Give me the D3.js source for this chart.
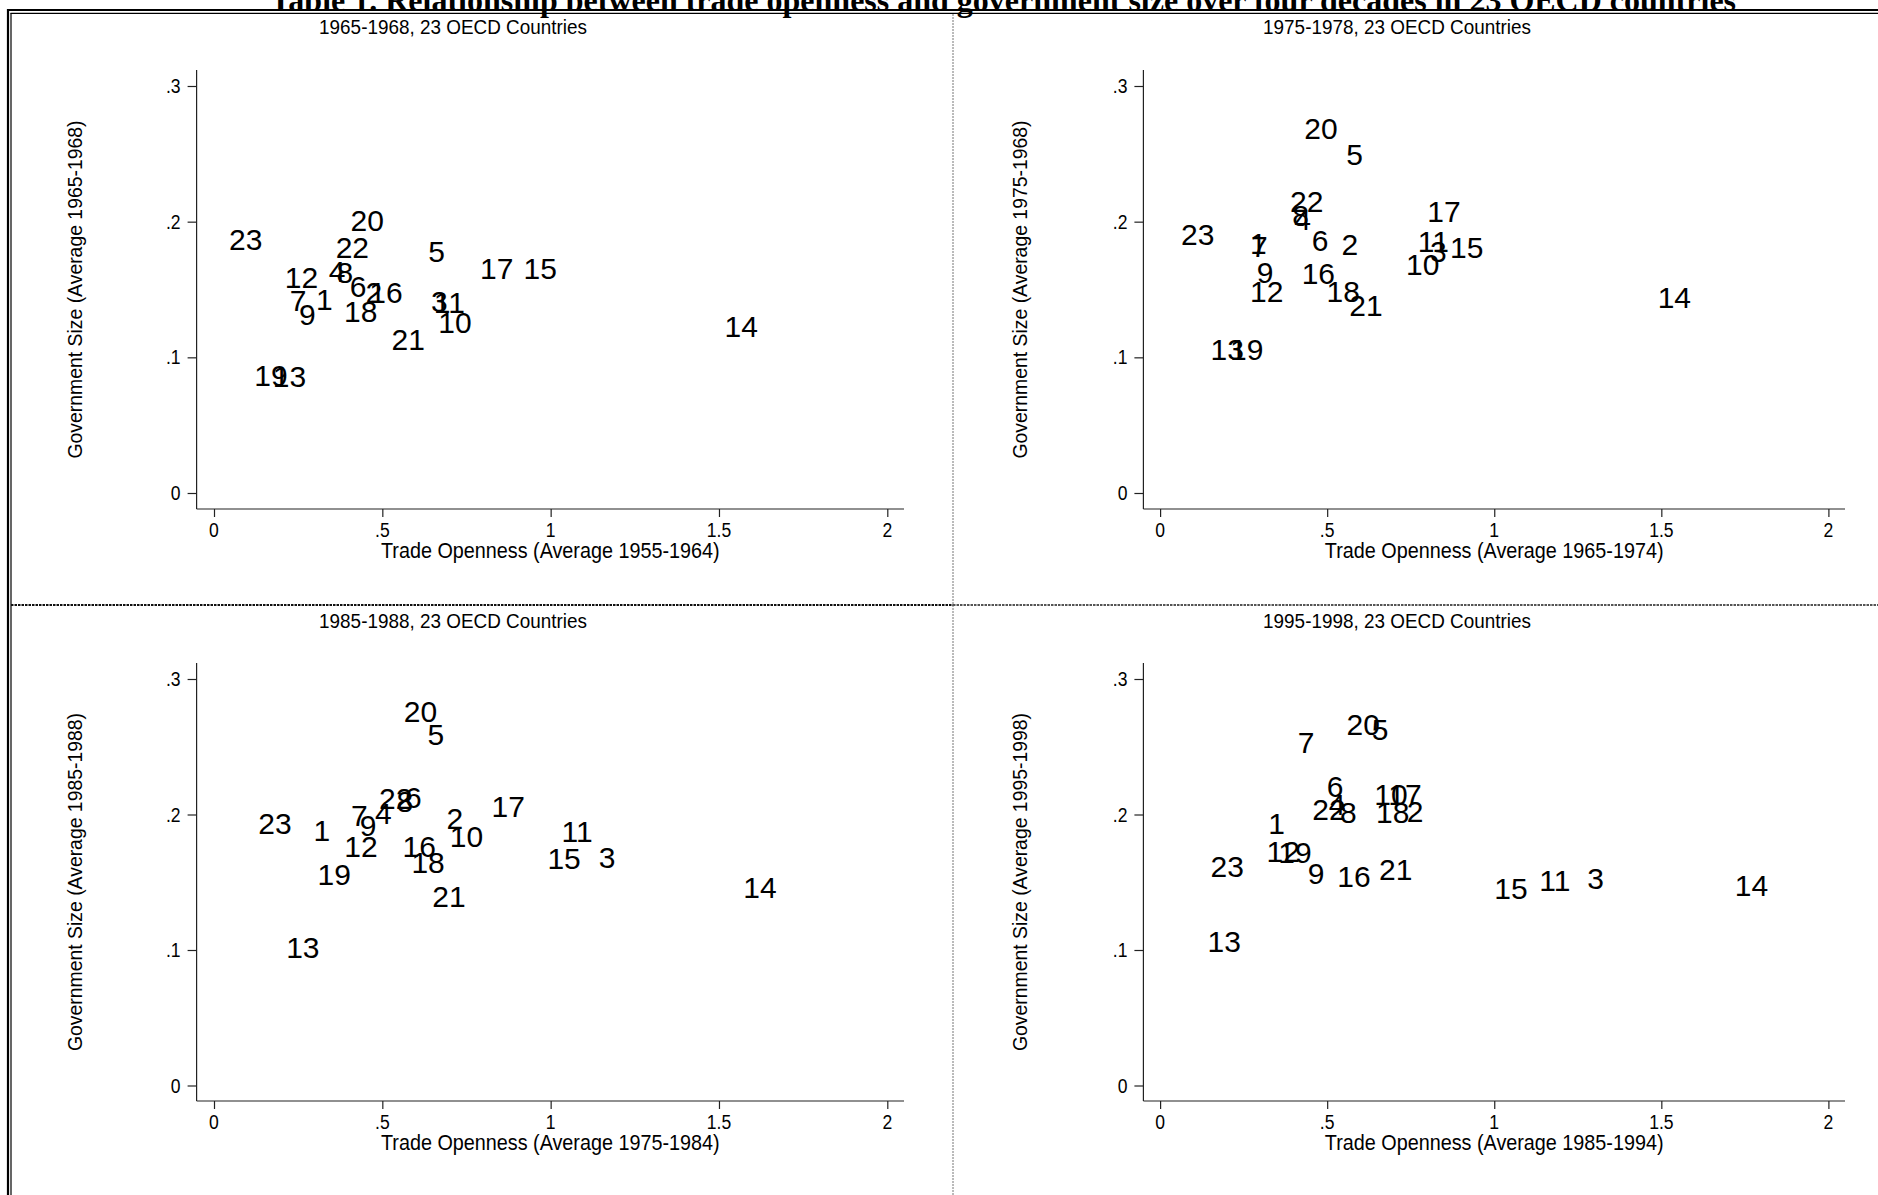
<!DOCTYPE html>
<html><head><meta charset="utf-8">
<script src="https://cdn.jsdelivr.net/npm/d3@7"></script>
<style>body{margin:0;background:#fff}svg{display:block}</style>
</head><body>
<svg id="c" width="1878" height="1195"></svg>
<script>
// ---------- data ----------
const countryIds = d3.range(1, 24);
const xTickValues = [0, 0.5, 1, 1.5, 2];
const xTickLabels = ["0", ".5", "1", "1.5", "2"];
const yTickValues = [0, 0.1, 0.2, 0.3];
const yTickLabels = ["0", ".1", ".2", ".3"];

const chartTitle = "Table 1. Relationship between trade openness and government size over four decades in 23 OECD countries";
const subTitles = ["1965-1968, 23 OECD Countries", "1975-1978, 23 OECD Countries", "1985-1988, 23 OECD Countries", "1995-1998, 23 OECD Countries"];
const xTitles = ["Trade Openness (Average 1955-1964)", "Trade Openness (Average 1965-1974)", "Trade Openness (Average 1975-1984)", "Trade Openness (Average 1985-1994)"];
const yTitles = ["Government Size (Average 1965-1968)", "Government Size (Average 1975-1968)", "Government Size (Average 1985-1988)", "Government Size (Average 1995-1998)"];

// trade openness / government size, countries 1..23
const open1965 = [0.3275,0.475,0.669,0.366,0.661,0.428,0.250,0.389,0.277,0.716,0.699,0.260,0.224,1.566,0.969,0.511,0.840,0.436,0.169,0.455,0.577,0.411,0.094];
const gov1965  = [0.1426,0.1482,0.1416,0.1635,0.1784,0.1524,0.1421,0.1630,0.1318,0.1261,0.1409,0.1593,0.0864,0.1231,0.1655,0.1482,0.1655,0.1342,0.0869,0.2010,0.1132,0.1809,0.1868];
const open1975 = [0.294,0.568,0.8326,0.4267,0.582,0.4785,0.297,0.4207,0.314,0.786,0.8177,0.319,0.201,1.539,0.9175,0.4735,0.8496,0.548,0.259,0.4815,0.616,0.4387,0.1125];
const gov1975  = [0.184,0.1836,0.1779,0.2018,0.2498,0.1865,0.1816,0.2050,0.1631,0.1688,0.1853,0.149,0.1063,0.1443,0.1811,0.1619,0.2075,0.149,0.1063,0.269,0.1384,0.2149,0.1907];
const open1985 = [0.320,0.7156,1.168,0.503,0.659,0.592,0.4315,0.567,0.458,0.750,1.0787,0.4365,0.264,1.622,1.040,0.6095,0.874,0.636,0.357,0.6135,0.698,0.540,0.181];
const gov1985  = [0.1887,0.1973,0.1688,0.2010,0.2595,0.2127,0.1997,0.2095,0.1923,0.1842,0.1877,0.1763,0.1023,0.1461,0.168,0.1763,0.2063,0.1646,0.156,0.2763,0.140,0.2120,0.1936];
const open1995 = [0.349,0.763,1.303,0.530,0.658,0.5234,0.4366,0.563,0.4666,0.691,1.1812,0.3687,0.1918,1.770,1.050,0.580,0.733,0.696,0.4037,0.608,0.705,0.5055,0.2008];
const gov1995  = [0.1934,0.2026,0.1532,0.2075,0.2632,0.2207,0.2534,0.2014,0.1568,0.215,0.1518,0.1729,0.1063,0.148,0.1457,0.1548,0.215,0.2014,0.1721,0.267,0.1593,0.2038,0.1617];

const opens = [open1965, open1975, open1985, open1995];
const govs = [gov1965, gov1975, gov1985, gov1995];

// ---------- layout ----------
const svg = d3.select("#c");
const FONT = "'Liberation Sans', Arial, sans-serif";
const SQ = 0.9; // horizontal condensation of axis texts

// page title (cut off at top)
svg.append("text").attr("x", 1003).attr("y", 10.5).attr("text-anchor", "middle")
  .attr("font-family", "'Liberation Serif','Times New Roman',serif").attr("font-weight", "bold")
  .attr("font-size", 32).attr("fill", "#000").text(chartTitle);

// frame
svg.append("line").attr("x1", 8).attr("x2", 8).attr("y1", 9).attr("y2", 1195).attr("stroke", "#000").attr("stroke-width", 2.2);
svg.append("line").attr("x1", 11).attr("x2", 11).attr("y1", 13).attr("y2", 1195).attr("stroke", "#000").attr("stroke-width", 1.2);
svg.append("line").attr("x1", 7).attr("x2", 1878).attr("y1", 10).attr("y2", 10).attr("stroke", "#000").attr("stroke-width", 2.2);
svg.append("line").attr("x1", 10.5).attr("x2", 1878).attr("y1", 13.4).attr("y2", 13.4).attr("stroke", "#000").attr("stroke-width", 1.2);
// dividers
svg.append("line").attr("x1", 953).attr("x2", 953).attr("y1", 14).attr("y2", 1195).attr("stroke", "#777").attr("stroke-width", 1).attr("stroke-dasharray", "2,1");
svg.append("line").attr("x1", 11).attr("x2", 953).attr("y1", 605).attr("y2", 605).attr("stroke", "#111").attr("stroke-width", 2).attr("stroke-dasharray", "2.5,1");
svg.append("line").attr("x1", 953).attr("x2", 1878).attr("y1", 605).attr("y2", 605).attr("stroke", "#555").attr("stroke-width", 2).attr("stroke-dasharray", "2.5,1");

const cols = [
  {axisX: 196.6, x0: 214, x2: 887.3, right: 904, ytX: 75, subX: 453},
  {axisX: 1143.4, x0: 1160.1, x2: 1828.4, right: 1845, ytX: 1020, subX: 1397}
];
const rows = [
  {top: 70, axisY: 509, y0: 493, y3: 86, subY: 26.5, xtY: 550},
  {top: 663, axisY: 1101, y0: 1085.5, y3: 679, subY: 620, xtY: 1142.5}
];

function sqText(g, x, y, txt, size, anchor) {
  return g.append("text").attr("transform", `translate(${x},${y}) scale(${SQ},1)`)
    .attr("dy", "0.36em").attr("text-anchor", anchor).attr("font-family", FONT)
    .attr("font-size", size).attr("fill", "#000").text(txt);
}

for (let p = 0; p < 4; p++) {
  const c = cols[p % 2], r = rows[Math.floor(p / 2)];
  const x = d3.scaleLinear().domain([0, 2]).range([c.x0, c.x2]);
  const y = d3.scaleLinear().domain([0, 0.3]).range([r.y0, r.y3]);
  const g = svg.append("g");

  // subtitle
  sqText(g, c.subX, r.subY, subTitles[p], 21, "middle");

  // y axis
  const yAx = g.append("g").attr("transform", `translate(${c.axisX},0)`)
    .call(d3.axisLeft(y).tickValues(yTickValues).tickFormat("").tickSize(9));
  yAx.select(".domain").remove();
  yAx.append("line").attr("x1", 0).attr("x2", 0).attr("y1", r.top).attr("y2", r.axisY).attr("stroke", "#222").attr("stroke-width", 1.2);
  yAx.selectAll(".tick line").attr("stroke", "#222").attr("stroke-width", 1.2);
  yTickValues.forEach((v, i) => sqText(g, c.axisX - 16, y(v), yTickLabels[i], 19.5, "end"));

  // x axis
  const xAx = g.append("g").attr("transform", `translate(0,${r.axisY})`)
    .call(d3.axisBottom(x).tickValues(xTickValues).tickFormat("").tickSize(8));
  xAx.select(".domain").remove();
  xAx.append("line").attr("x1", c.axisX).attr("x2", c.right).attr("y1", 0).attr("y2", 0).attr("stroke", "#222").attr("stroke-width", 1.2);
  xAx.selectAll(".tick line").attr("stroke", "#222").attr("stroke-width", 1.2);
  xTickValues.forEach((v, i) => sqText(g, x(v), r.axisY + 21, xTickLabels[i], 19.5, "middle"));

  // axis titles
  sqText(g, (c.axisX + c.right) / 2, r.xtY, xTitles[p], 22, "middle");
  g.append("text").attr("transform", `translate(${c.ytX},${(r.top + r.axisY) / 2}) rotate(-90)`)
    .attr("dy", "0.36em").attr("text-anchor", "middle").attr("font-family", FONT).attr("font-size", 19.4)
    .attr("fill", "#000").text(yTitles[p]);

  // labels as markers
  g.selectAll("text.lab").data(countryIds).enter().append("text").attr("class", "lab")
    .attr("x", (d, i) => x(opens[p][i])).attr("y", (d, i) => y(govs[p][i])).attr("dy", "0.36em")
    .attr("text-anchor", "middle").attr("font-family", FONT).attr("font-size", 30)
    .attr("fill", "#000").text(d => d);
}
</script>
</body></html>
